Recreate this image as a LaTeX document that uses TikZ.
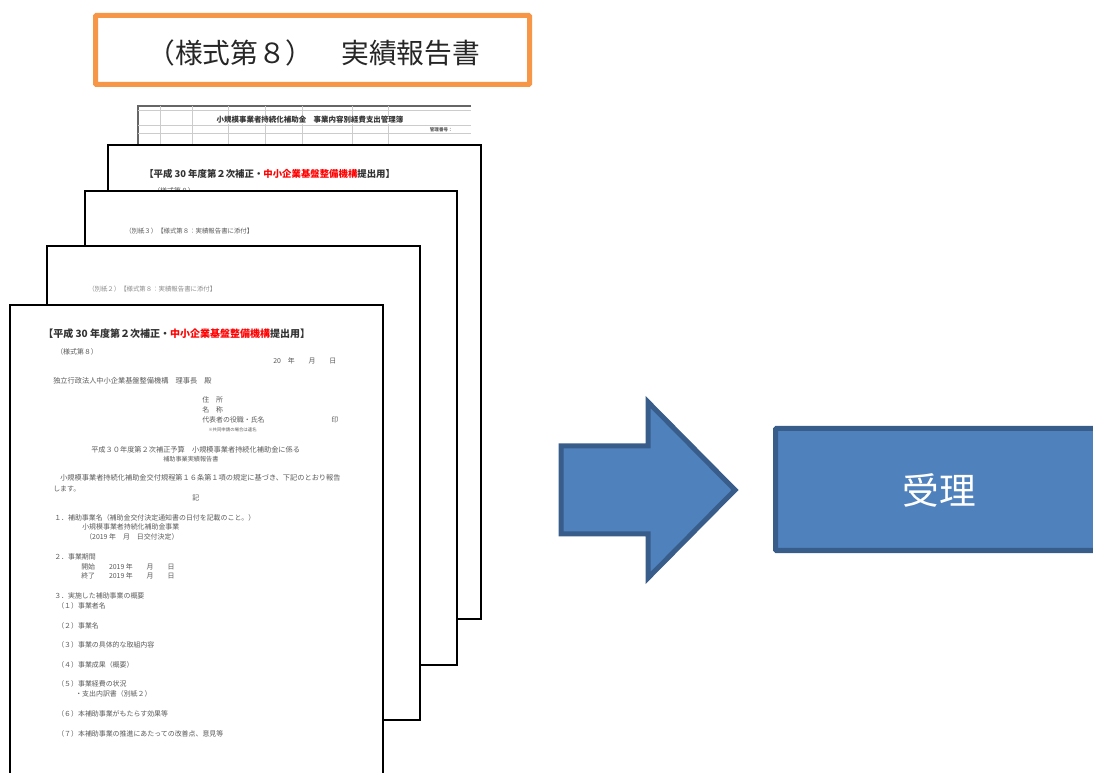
\documentclass[tikz,border=0pt]{standalone}
\usepackage{fontspec}
\setmainfont{Noto Sans CJK JP}
\definecolor{boxblue}{HTML}{4F81BD}
\definecolor{boxedge}{HTML}{385D8A}
\definecolor{boxorange}{HTML}{F79646}
\definecolor{docgray}{HTML}{5A5A5A}
\tikzset{
  sheet/.style={draw=black,line width=1.5pt,fill=white},
  gridline/.style={draw=black!20,line width=0.4pt},
  doctext/.style={anchor=west,inner sep=0pt,text=docgray,font=\fontsize{5.2}{6}\selectfont},
  widetext/.style={doctext,font=\fontsize{5.4}{6}\selectfont},
  dochead/.style={anchor=west,inner sep=0pt,text=black!80,font=\fontsize{7.5}{8}\selectfont\bfseries},
  fainttext/.style={doctext,text=black!45},
  bluebox/.style={draw=boxedge,line width=3.75pt,fill=boxblue,line join=miter},
  titlebox/.style={draw=boxorange,line width=3.75pt,fill=white,rounded corners=0.6pt}
}
\begin{document}
\begin{tikzpicture}[x=0.75pt,y=-0.75pt]
\useasboundingbox (0,0) rectangle (1093,773);
\clip (0,0) rectangle (1093,773);
% title
\node[titlebox,minimum width=325.5pt,minimum height=51.75pt,anchor=north west,inner sep=0pt] (title) at (93,13) {};
\node[anchor=west,inner sep=0pt,font=\fontsize{20.8}{24}\selectfont,text=black!85] (titletext) at (147,53) {（様式第８）　実績報告書};
% back sheet
\draw[black!60,line width=0.8pt] (471,106) -- (138,106) -- (138,150);
\foreach \yy in {110,125,133} \draw[gridline] (138,\yy) -- (471,\yy);
\foreach \xx in {160,192,228,265,302,352,388} \draw[gridline] (\xx,106) -- (\xx,150);
\node[dochead,anchor=center,font=\fontsize{5.6}{6}\selectfont\bfseries,fill=white,inner sep=0.5pt] (s1a) at (310,120) {小規模事業者持続化補助金　事業内容別経費支出管理簿};
\node[doctext,font=\fontsize{3.4}{4}\selectfont\bfseries,fill=white,inner sep=0.5pt] (s1b) at (429,130) {管理番号：};
% sheet 2
\node[sheet,minimum width=279.75pt,minimum height=355.5pt,anchor=north west,inner sep=0pt] (p2) at (107,144) {};
\node[dochead,font=\fontsize{7.05}{8}\selectfont\bfseries] (p2a) at (144,174) {【平成 30 年度第２次補正・\textcolor{red}{中小企業基盤整備機構}提出用】};
\node[doctext] (p2b) at (153,191) {（様式第８）};
% sheet 3
\node[sheet,minimum width=279pt,minimum height=355.5pt,anchor=north west,inner sep=0pt] (p3) at (84,190) {};
\node[doctext,font=\fontsize{4.8}{6}\selectfont] (p3a) at (125,231) {（別紙３）【様式第８：実績報告書に添付】};
% sheet 4
\node[sheet,minimum width=279.75pt,minimum height=355.5pt,anchor=north west,inner sep=0pt] (p4) at (46,245) {};
\node[fainttext,font=\fontsize{4.8}{6}\selectfont] (p4a) at (88,289) {（別紙２）【様式第８：実績報告書に添付】};
% sheet 5
\node[sheet,minimum width=279.75pt,minimum height=400pt,anchor=north west,inner sep=0pt] (p5) at (9,304) {};
\node[dochead] (h) at (43,334) {【平成 30 年度第２次補正・\textcolor{red}{中小企業基盤整備機構}提出用】};
\node[doctext] (a1) at (56,352) {（様式第８）};
\node[doctext] (a2) at (273,361) {20　年　　月　　日};
\node[widetext] (a3) at (53,381) {独立行政法人中小企業基盤整備機構　理事長　殿};
\node[doctext] (a4) at (202,400) {住　所};
\node[doctext] (a5) at (202,410) {名　称};
\node[doctext] (a6) at (202,420) {代表者の役職・氏名};
\node[doctext] (a7) at (331,420) {印};
\node[doctext,font=\fontsize{3.3}{4}\selectfont] (a8) at (208,430) {※共同申請の場合は連名};
\node[widetext] (a9) at (91,450) {平成３０年度第２次補正予算　小規模事業者持続化補助金に係る};
\node[doctext,font=\fontsize{4.6}{6}\selectfont] (a10) at (163,459) {補助事業実績報告書};
\node[widetext] (a11) at (60,478) {小規模事業者持続化補助金交付規程第１６条第１項の規定に基づき、下記のとおり報告};
\node[doctext] (a12) at (53,489) {します。};
\node[doctext] (a13) at (192,498) {記};
\node[doctext] (a14) at (54,518) {１．補助事業名（補助金交付決定通知書の日付を記載のこと。）};
\node[doctext] (a15) at (82,527) {小規模事業者持続化補助金事業};
\node[doctext] (a16) at (85,537) {（2019 年　月　日交付決定）};
\node[doctext] (a17) at (54,557) {２．事業期間};
\node[doctext] (a18) at (81,567) {開始　　2019 年　　月　　日};
\node[doctext] (a19) at (81,576) {終了　　2019 年　　月　　日};
\node[doctext] (a20) at (54,596) {３．実施した補助事業の概要};
\node[doctext] (a21) at (57,606) {（１）事業者名};
\node[doctext] (a22) at (57,626) {（２）事業名};
\node[doctext] (a23) at (57,645) {（３）事業の具体的な取組内容};
\node[doctext] (a24) at (57,665) {（４）事業成果（概要）};
\node[doctext] (a25) at (57,684) {（５）事業経費の状況};
\node[doctext] (a26) at (75,694) {・支出内訳書（別紙２）};
\node[doctext] (a27) at (57,714) {（６）本補助事業がもたらす効果等};
\node[doctext] (a28) at (57,734) {（７）本補助事業の推進にあたっての改善点、意見等};
% arrow
\draw[bluebox] (561,446) -- (648,446) -- (648,402) -- (735,490) -- (648,578) -- (648,534) -- (561,534) -- cycle;
% result box
\node[bluebox,rounded corners=0.6pt,minimum width=300pt,minimum height=91.5pt,anchor=north west,inner sep=0pt] (recv) at (773,426) {};
\node[text=white,inner sep=0pt,font=\fontsize{27.5}{30}\selectfont] (recvtext) at (939,490) {受理};
\end{tikzpicture}
\end{document}
